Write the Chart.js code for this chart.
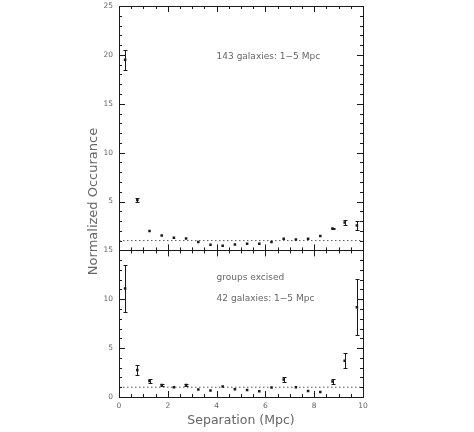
<!DOCTYPE html>
<html>
<head>
<meta charset="utf-8">
<script src="https://cdn.jsdelivr.net/npm/chart.js@4.4.1/dist/chart.umd.min.js"></script>
<style>
  html, body { margin: 0; padding: 0; background: #fff; }
  #wrap { width: 474px; height: 432px; }
</style>
</head>
<body>
<div id="wrap"><canvas id="occChart" width="474" height="432"></canvas></div>
<script>
// ====== Data ======
const sepMpc = [0.25, 0.75, 1.25, 1.75, 2.25, 2.75, 3.25, 3.75, 4.25, 4.75,
                5.25, 5.75, 6.25, 6.75, 7.25, 7.75, 8.25, 8.75, 9.25, 9.75];

// top panel : 143 galaxies
const topOcc = [19.5, 5.15, 1.98, 1.53, 1.3, 1.22, 0.86, 0.58, 0.48, 0.61,
                0.68, 0.68, 0.86, 1.19, 1.12, 1.19, 1.47, 2.24, 2.86, 2.55];
const topErr = [1.0, 0.2, 0, 0, 0, 0, 0, 0, 0, 0,
                0, 0, 0, 0, 0, 0, 0, 0.1, 0.25, 0.45];

// bottom panel : groups excised, 42 galaxies
const botOcc = [11.1, 2.77, 1.64, 1.23, 1.0, 1.23, 0.76, 0.66, 1.07, 0.79,
                0.72, 0.59, 0.97, 1.79, 1.0, 0.62, 0.51, 1.58, 3.7, 9.19];
const botErr = [2.4, 0.55, 0.22, 0.12, 0, 0.12, 0, 0, 0, 0,
                0, 0, 0, 0.22, 0, 0, 0, 0.3, 0.77, 2.85];

const refLevel = 1;
const xTicks = [0, 2, 4, 6, 8, 10];
const topYTicks = [0, 5, 10, 15, 20, 25];
const botYTicks = [0, 5, 10, 15];

const topLabel = "143 galaxies: 1\u22125 Mpc";
const botLabels = ["groups excised", "42 galaxies: 1\u22125 Mpc"];
const xTitle = "Separation (Mpc)";
const yTitle = "Normalized Occurance";

const inkColor = "#1a1a1a";
const textColor = "#666";
const fontFam = "'DejaVu Sans', sans-serif";

function pts(ys) {
  return sepMpc.map((x, i) => ({ x, y: ys[i] }));
}

// ====== Frame, inward ticks, error bars, texts ======
const framePlugin = {
  id: "frame",
  afterDatasetsDraw(chart) {
    const ctx = chart.ctx;
    const xs = chart.scales.x;
    const panels = [
      { s: chart.scales.yTop, err: topErr, val: topOcc },
      { s: chart.scales.yBot, err: botErr, val: botOcc }
    ];
    ctx.save();
    ctx.strokeStyle = inkColor;
    ctx.lineWidth = 1;

    panels.forEach(p => {
      const s = p.s;
      const top = s.getPixelForValue(s.max);
      const bot = s.getPixelForValue(s.min);
      const left = xs.getPixelForValue(0);
      const right = xs.getPixelForValue(10);
      ctx.strokeRect(Math.round(left) + 0.5, Math.round(top) + 0.5,
                     Math.round(right - left), Math.round(bot - top));

      ctx.beginPath();
      for (let v = s.min; v <= s.max; v += 1) {
        const y = Math.round(s.getPixelForValue(v)) + 0.5;
        const len = v % 5 === 0 ? 6 : 3;
        ctx.moveTo(left, y); ctx.lineTo(left + len, y);
        ctx.moveTo(right, y); ctx.lineTo(right - len, y);
      }
      for (let v = 0; v <= 10; v += 0.5) {
        const x = Math.round(xs.getPixelForValue(v)) + 0.5;
        const len = v % 2 === 0 ? 6 : 3;
        ctx.moveTo(x, top); ctx.lineTo(x, top + len);
        ctx.moveTo(x, bot); ctx.lineTo(x, bot - len);
      }
      ctx.stroke();

      // error bars (only where visible in the figure)
      ctx.beginPath();
      sepMpc.forEach((sx, i) => {
        if (!p.err[i]) return;
        const x = Math.round(xs.getPixelForValue(sx)) + 0.5;
        const y1 = Math.round(s.getPixelForValue(p.val[i] + p.err[i])) + 0.5;
        const y2 = Math.round(s.getPixelForValue(p.val[i] - p.err[i])) + 0.5;
        ctx.moveTo(x, y1); ctx.lineTo(x, y2);
        ctx.moveTo(x - 2, y1); ctx.lineTo(x + 2, y1);
        ctx.moveTo(x - 2, y2); ctx.lineTo(x + 2, y2);
      });
      ctx.stroke();
    });

    // texts
    ctx.fillStyle = textColor;
    ctx.font = "9px " + fontFam;
    ctx.textBaseline = "middle";
    ctx.textAlign = "left";
    const tx = xs.getPixelForValue(4.0);
    ctx.fillText(topLabel, tx, chart.scales.yTop.getPixelForValue(19.8));
    ctx.fillText(botLabels[0], tx, chart.scales.yBot.getPixelForValue(12.2));
    ctx.fillText(botLabels[1], tx, chart.scales.yBot.getPixelForValue(10.1));

    ctx.font = "13px " + fontFam;
    ctx.textAlign = "center";
    ctx.translate(94, (chart.scales.yTop.top + chart.scales.yBot.bottom) / 2);
    ctx.rotate(-Math.PI / 2);
    ctx.fillText(yTitle, 0, 0);
    ctx.restore();
  }
};

// ====== Chart ======
function renderChart() {
  const ctx = document.getElementById("occChart").getContext("2d");
  const pointOpts = {
    pointStyle: "rect", pointRadius: 1.8, pointHoverRadius: 1.8,
    backgroundColor: inkColor, borderColor: inkColor, borderWidth: 0, showLine: false
  };
  const dotted = {
    type: "line", borderColor: "#555", borderWidth: 1, borderDash: [1.5, 2.5],
    pointRadius: 0, fill: false
  };
  const fitY = s => { s.width = 26; s.paddingTop = 0; s.paddingBottom = 0; };

  new Chart(ctx, {
    type: "scatter",
    data: {
      datasets: [
        Object.assign({ data: pts(topOcc), yAxisID: "yTop" }, pointOpts),
        Object.assign({ data: pts(botOcc), yAxisID: "yBot" }, pointOpts),
        Object.assign({ data: [{ x: 0, y: refLevel }, { x: 10, y: refLevel }], yAxisID: "yTop" }, dotted),
        Object.assign({ data: [{ x: 0, y: refLevel }, { x: 10, y: refLevel }], yAxisID: "yBot" }, dotted)
      ]
    },
    options: {
      responsive: false,
      animation: false,
      events: [],
      layout: { padding: { left: 93, right: 111, top: 6, bottom: 0 } },
      plugins: { legend: { display: false }, tooltip: { enabled: false } },
      scales: {
        x: {
          type: "linear", min: 0, max: 10,
          grid: { display: false, drawTicks: false },
          border: { display: false },
          afterBuildTicks: s => { s.ticks = xTicks.map(v => ({ value: v })); },
          ticks: { color: textColor, font: { size: 7.5, family: fontFam }, padding: 5, maxRotation: 0 },
          title: { display: true, text: xTitle, color: textColor,
                   font: { size: 12.5, family: fontFam }, padding: { top: 0, bottom: 4 } },
          afterFit: s => { s.height = 35; }
        },
        yBot: {
          type: "linear", position: "left", stack: "panels", stackWeight: 15,
          min: 0, max: 15,
          grid: { display: false, drawTicks: false },
          border: { display: false },
          afterBuildTicks: s => { s.ticks = botYTicks.map(v => ({ value: v })); },
          ticks: { color: textColor, font: { size: 7.5, family: fontFam }, padding: 6 },
          afterFit: fitY
        },
        yTop: {
          type: "linear", position: "left", stack: "panels", stackWeight: 25,
          min: 0, max: 25,
          grid: { display: false, drawTicks: false },
          border: { display: false },
          afterBuildTicks: s => { s.ticks = topYTicks.filter(v => v > 0).map(v => ({ value: v })); },
          ticks: { color: textColor, font: { size: 7.5, family: fontFam }, padding: 6 },
          afterFit: fitY
        }
      }
    },
    plugins: [framePlugin]
  });
}

renderChart();
</script>
</body>
</html>
